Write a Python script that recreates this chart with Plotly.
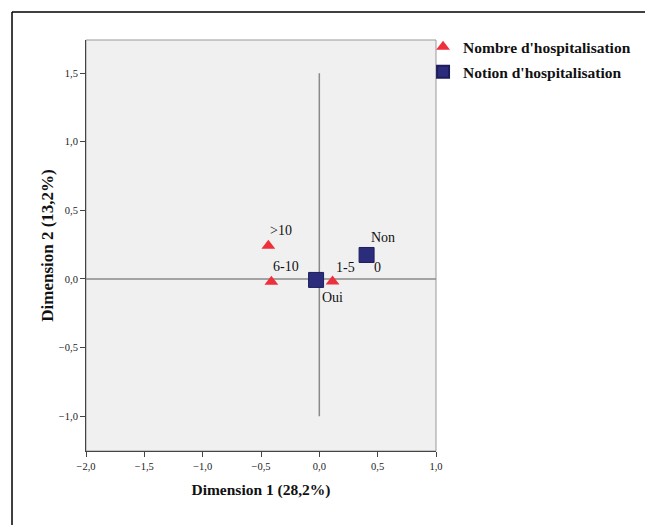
import plotly.graph_objects as go

# Data
nombre_labels = ["0", "1-5", "6-10", ">10"]
nombre_x = [0.405, 0.113, -0.411, -0.437]
nombre_y = [0.175, -0.018, -0.020, 0.243]

notion_labels = ["Oui", "Non"]
notion_x = [-0.028, 0.405]
notion_y = [-0.007, 0.175]

x_ticks = [-2.0, -1.5, -1.0, -0.5, 0.0, 0.5, 1.0]
y_ticks = [-1.0, -0.5, 0.0, 0.5, 1.0, 1.5]

FONT = "Liberation Serif, Times New Roman, serif"
RED = "#ee2f3c"
NAVY = "#2b2d7c"

fig = go.Figure()

fig.add_trace(go.Scatter(
    x=nombre_x, y=nombre_y, mode="markers", name="<b>Nombre d'hospitalisation</b>",
    legendgroup="a",
    marker=dict(symbol="triangle-up", size=12, color=RED, line=dict(width=0)),
))
fig.add_trace(go.Scatter(
    x=notion_x, y=notion_y, mode="markers", name="<b>Notion d'hospitalisation</b>",
    legendgroup="b",
    marker=dict(symbol="square", size=15, color=NAVY, line=dict(width=1, color="#1c1e5a")),
))

# label offsets (pixel shifts: dx, dy)
nombre_shift = {"0": (5, -13), "1-5": (1, 14), "6-10": (0, 15), ">10": (0, 15)}
notion_shift = {"Oui": (4, -18), "Non": (2, 17)}

annotations = []
for lab, x, y in zip(nombre_labels, nombre_x, nombre_y):
    dx, dy = nombre_shift[lab]
    annotations.append(dict(x=x, y=y, text=lab, showarrow=False, xanchor="left", yanchor="middle",
                            xshift=dx, yshift=dy, font=dict(family=FONT, size=14, color="#111")))
for lab, x, y in zip(notion_labels, notion_x, notion_y):
    dx, dy = notion_shift[lab]
    annotations.append(dict(x=x, y=y, text=lab, showarrow=False, xanchor="left", yanchor="middle",
                            xshift=dx, yshift=dy, font=dict(family=FONT, size=14, color="#111")))

shapes = [
    # plot frame (gray)
    dict(type="rect", xref="paper", yref="paper", x0=0, x1=1, y0=0, y1=1,
         line=dict(color="#999", width=1), layer="below"),
    # reference lines
    dict(type="line", xref="x", yref="y", x0=0, x1=0, y0=-1.0, y1=1.5,
         line=dict(color="#8a8a8a", width=1.5), layer="below"),
    dict(type="line", xref="x", yref="y", x0=-2.0, x1=1.0, y0=0, y1=0,
         line=dict(color="#8a8a8a", width=1.5), layer="below"),
    # outer frame (top and left)
    dict(type="line", xref="paper", yref="paper", x0=-0.2114, x1=1.62, y0=1.068, y1=1.068,
         line=dict(color="black", width=1.5)),
    dict(type="line", xref="paper", yref="paper", x0=-0.2114, x1=-0.2114, y0=1.068, y1=-0.2,
         line=dict(color="black", width=1.5)),
]

fig.update_layout(
    width=645, height=525,
    margin=dict(l=86, r=209, t=40, b=74, autoexpand=False),
    paper_bgcolor="white", plot_bgcolor="#f0f0f0",
    separators=",.",
    font=dict(family=FONT, color="#222"),
    showlegend=True,
    legend=dict(x=0.963, y=1.024, xanchor="left", yanchor="top", bgcolor="rgba(0,0,0,0)",
                font=dict(family=FONT, size=15.5, color="#111"), tracegroupgap=2,
                itemsizing="constant"),
    annotations=annotations, shapes=shapes,
    xaxis=dict(range=[-2.0, 1.0], tickvals=x_ticks, tickformat=".1f",
               showgrid=False, zeroline=False, showline=True, linecolor="#444", linewidth=1,
               ticks="outside", ticklen=5, tickcolor="#444",
               tickfont=dict(family=FONT, size=10.5, color="#222"),
               title=dict(text="<b>Dimension 1 (28,2%)</b>", font=dict(family=FONT, size=15.5, color="#111"),
                          standoff=13)),
    yaxis=dict(range=[-1.254, 1.742], tickvals=y_ticks, tickformat=".1f",
               showgrid=False, zeroline=False, showline=True, linecolor="#444", linewidth=1,
               ticks="outside", ticklen=5, tickcolor="#444",
               tickfont=dict(family=FONT, size=10.5, color="#222"),
               title=dict(text="<b>Dimension 2 (13,2%)</b>", font=dict(family=FONT, size=17, color="#111"),
                          standoff=0)),
)

fig.write_html("out.html")
